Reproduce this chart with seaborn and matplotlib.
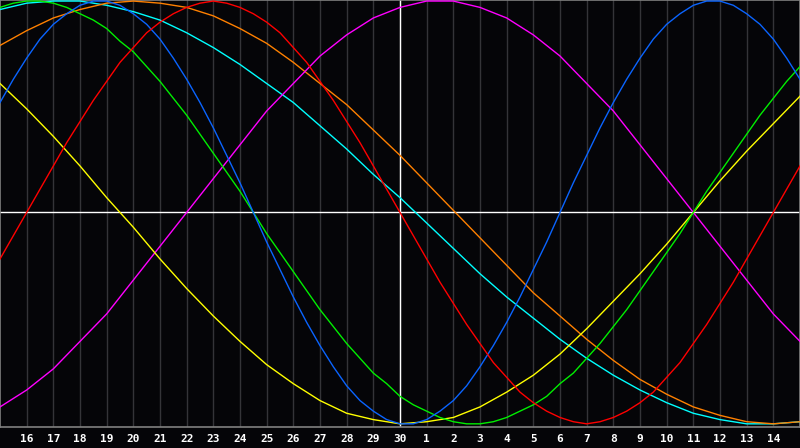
import matplotlib
matplotlib.use("Agg")
import matplotlib.pyplot as plt
import seaborn as sns
import pandas as pd

# day labels along the bottom (previous month 16..30, then 1..14)
day_labels = [str(d) for d in range(16, 31)] + [str(d) for d in range(1, 15)]
days = list(range(0, 31))                # whole-day slots 0..30
half_days = [k / 2 for k in range(61)]   # half-day slots for the short cycles

# cycle values, -100..100
red = [-22, -11, 0, 11, 22, 33, 43, 53, 62, 71, 78, 85, 90, 94, 97, 99, 100,
       99, 97, 94, 90, 85, 78, 71, 62, 53, 43, 33, 22, 11, 0, -11, -22, -33,
       -43, -53, -62, -71, -78, -85, -90, -94, -97, -99, -100, -99, -97, -94,
       -90, -85, -78, -71, -62, -53, -43, -33, -22, -11, 0, 11, 22]
blue = [52, 63, 73, 82, 89, 94, 98, 100, 100, 98, 94, 89, 82, 73, 63, 52, 40,
        27, 14, 0, -14, -27, -40, -52, -63, -73, -82, -89, -94, -98, -100,
        -100, -98, -94, -89, -82, -73, -63, -52, -40, -27, -14, 0, 14, 27, 40,
        52, 63, 73, 82, 89, 94, 98, 100, 100, 98, 94, 89, 82, 73, 63]
green = [97, 99, 100, 100, 99, 97, 94, 91, 87, 81, 76, 69, 62, 54, 46, 37, 28,
         19, 10, 0, -10, -19, -28, -37, -46, -54, -62, -69, -76, -81, -87, -91,
         -94, -97, -99, -100, -100, -99, -97, -94, -91, -87, -81, -76, -69,
         -62, -54, -46, -37, -28, -19, -10, 0, 10, 19, 28, 37, 46, 54, 62, 69]
magenta = [-92, -84, -74, -61, -48, -32, -16, 0, 16, 32, 48, 61, 74, 84, 92, 97,
           100, 100, 97, 92, 84, 74, 61, 48, 32, 16, 0, -16, -32, -48, -61]
yellow = [61, 49, 36, 22, 7, -7, -22, -36, -49, -61, -72, -81, -89, -95, -98, -100,
          -99, -97, -92, -85, -77, -67, -55, -42, -29, -15, 0, 15, 29, 42, 55]
orange = [79, 86, 92, 96, 99, 100, 99, 97, 93, 87, 80, 71, 61, 51, 39, 27,
          14, 1, -12, -25, -38, -49, -60, -70, -79, -86, -92, -96, -99, -100, -99]
cyan = [96, 99, 100, 100, 98, 95, 91, 85, 78, 70, 61, 52, 41, 30, 18, 7,
        -5, -17, -29, -40, -50, -60, -69, -77, -84, -90, -95, -98, -100, -100, -99]

series = [
    (days, cyan, "#00ffff"),
    (days, orange, "#ff8000"),
    (days, magenta, "#ff00ff"),
    (days, yellow, "#ffff00"),
    (half_days, green, "#00ee00"),
    (half_days, blue, "#0a64ff"),
    (half_days, red, "#ff0000"),
]

fig = plt.figure(figsize=(8, 4.48), dpi=100)
fig.patch.set_facecolor("#050508")
ax = fig.add_axes([0, 21 / 448, 1, 427 / 448])
ax.set_facecolor("#050508")

# grid
for i in range(1, 30):
    ax.axvline(i, color="#343438", lw=1.0, zorder=1)
ax.axvline(15, color="white", lw=1.0, zorder=2)
ax.axhline(0, color="white", lw=1.0, zorder=2)

for xs, vals, col in series:
    df = pd.DataFrame({"day": xs, "value": vals})
    sns.lineplot(data=df, x="day", y="value", color=col, lw=1.0, ax=ax, zorder=3)

ax.set_xlim(0, 30)
ax.set_ylim(-101.5, 100.5)
ax.set_xlabel("")
ax.set_ylabel("")
ax.set_yticks([])
ax.set_xticks(range(1, 30))
ax.set_xticklabels(day_labels, color="white", fontsize=8, fontweight="bold",
                   family="DejaVu Sans Mono")
ax.tick_params(axis="x", length=0, pad=5)
for s in ax.spines.values():
    s.set_color("#808080")
    s.set_linewidth(1.2)

fig.savefig("out.png", dpi=100, facecolor=fig.get_facecolor())
